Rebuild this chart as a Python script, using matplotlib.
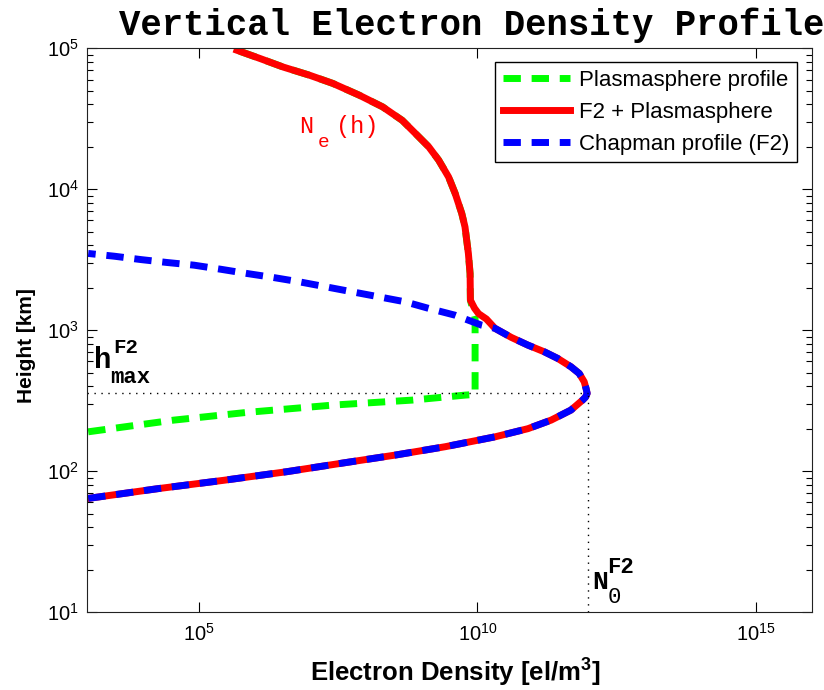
import matplotlib
matplotlib.use('Agg')
import matplotlib.pyplot as plt
from matplotlib.ticker import NullLocator

plt.rcParams['font.family'] = ['Liberation Sans', 'DejaVu Sans']

# Профиль Чепмена (F2), снизу вверх
chapman_h = [64, 75, 86, 99, 115, 130, 149, 175, 200, 230, 271, 319, 335, 356, 385, 430, 493,
             550, 630, 701, 783, 888, 1030, 1085, 1277, 1426, 1588, 1722, 1870, 2028, 2201,
             2364, 2524, 2709, 2892, 3020, 3168, 3347, 3502]
chapman_N = [1.05e3, 1.84e4, 2.8e5, 3.8e6, 4.4e7, 3.4e8, 2.66e9, 2.07e10, 8.07e10, 2.1e11,
             4.76e11, 7.7e11, 8.7e11, 9.3e11, 8.9e11, 8.24e11, 6.7e11, 4.76e11, 2.76e11,
             1.6e11, 8.07e10, 4.07e10, 2.07e10, 1.19e10, 3.98e9, 1.35e9, 5.1e8, 1.74e8,
             5.75e7, 1.95e7, 6.5e6, 2.2e6, 7.4e5, 2.45e5, 8.3e4, 2.75e4, 9.3e3, 3.1e3, 1.05e3]

# F2 + плазмосфера, сверху вниз
total_h = [96800, 84600, 73600, 64400, 56300, 46500, 38400, 30800, 24800, 20000, 16100,
           12200, 9330, 6730, 5400, 3500, 2520, 1630, 1430, 1310, 1200, 1030, 888, 783,
           701, 630, 550, 493, 430, 385, 356, 335, 319, 271, 230, 200, 175, 149, 130, 115,
           99, 86, 75, 64]
total_N = [4.9e5, 1.27e6, 3.3e6, 9.8e6, 2.57e7, 7.6e7, 2.0e8, 4.5e8, 7.8e8, 1.34e9, 2.02e9,
           3.05e9, 4.0e9, 5.25e9, 6.0e9, 6.9e9, 7.4e9, 7.5e9, 8.9e9, 1.05e10, 1.45e10,
           2.07e10, 4.07e10, 8.07e10, 1.6e11, 2.76e11, 4.76e11, 6.7e11, 8.24e11, 8.9e11,
           9.3e11, 8.7e11, 7.7e11, 4.76e11, 2.1e11, 8.07e10, 2.07e10, 2.66e9, 3.4e8,
           4.4e7, 3.8e6, 2.8e5, 1.84e4, 1.05e3]

# Плазмосфера, снизу вверх
plasma_h = [190, 230, 261, 294, 319, 346, 350, 1216, 1630, 2520, 3500, 5400, 6730, 9330,
            12200, 16100, 20000, 24800, 30800, 38400, 46500, 56300, 64400, 73600, 84600,
            96800]
plasma_N = [1.05e3, 3.6e4, 7.4e5, 2.57e7, 6.8e8, 6.0e9, 9.1e9, 9.1e9, 7.5e9, 7.4e9, 6.9e9,
            6.0e9, 5.25e9, 4.0e9, 3.05e9, 2.02e9, 1.34e9, 7.8e8, 4.5e8, 2.0e8, 7.6e7,
            2.57e7, 9.8e6, 3.3e6, 1.27e6, 4.9e5]

hmF2 = 356
NmF2 = 9.5e11

fig = plt.figure(figsize=(8.24, 6.9), dpi=100)
ax = fig.add_axes([0.1056, 0.113, 0.8798, 0.817])

lw = 5
dash = (0, (2.5, 1.55))
ax.plot(plasma_N, plasma_h, color='#00ff00', lw=lw, linestyle=dash,
        label='Plasmasphere profile')
ax.plot(total_N, total_h, color='#ff0000', lw=lw, label='F2 + Plasmasphere')
ax.plot(chapman_N, chapman_h, color='#0000ff', lw=lw, linestyle=dash,
        label='Chapman profile (F2)')

# пунктир hmF2 / NmF2
ax.plot([1e3, NmF2], [hmF2, hmF2], color='black', lw=1, linestyle=(0, (1, 4)))
ax.plot([NmF2, NmF2], [10, hmF2], color='black', lw=1, linestyle=(0, (1, 4)))

ax.set_xscale('log')
ax.set_yscale('log')
ax.set_xlim(1e3, 1e16)
ax.set_ylim(10, 1e5)
ax.set_xticks([1e5, 1e10, 1e15])
ax.xaxis.set_minor_locator(NullLocator())

ax.tick_params(which='both', direction='in', top=True, right=True, labelsize=14.5)
ax.tick_params(axis='x', pad=8)
ax.tick_params(axis='y', pad=6)
ax.tick_params(which='major', length=7, width=0.8)
ax.tick_params(which='minor', length=4, width=0.8)
for s in ax.spines.values():
    s.set_linewidth(0.8)
    s.set_color('#222222')

ax.set_xlabel('Electron Density [el/m$\\mathdefault{^{3}}$]', fontsize=18.5, fontweight='bold')
ax.set_ylabel('Height [km]', fontsize=15, fontweight='bold')
ax.xaxis.set_label_coords(0.508, -0.08)
ax.yaxis.set_label_coords(-0.07, 0.473)

mono = 'Liberation Mono'
# h_max^F2
ax.text(10**3.126, 537, 'h', family=mono, fontweight='bold', fontsize=21, va='baseline')
ax.text(10**3.47, 687, 'F2', family=mono, fontweight='bold', fontsize=15, va='baseline')
ax.text(10**3.416, 421, 'max', family=mono, fontweight='bold', fontsize=16, va='baseline')
# N_0^F2
ax.text(10**12.06, 14.6, 'N', family=mono, fontweight='bold', fontsize=19, va='baseline')
ax.text(10**12.33, 18.9, 'F2', family=mono, fontweight='bold', fontsize=16, va='baseline')
ax.text(10**12.33, 11.6, '0', family=mono, fontsize=16, va='baseline')
# N_e(h)
ax.text(10**6.797, 24900, 'N', family=mono, fontsize=17, color='red', va='baseline')
ax.text(10**7.135, 19900, 'e', family=mono, fontsize=14, color='red', va='baseline')
ax.text(10**7.473, 24900, '(h)', family=mono, fontsize=17, color='red', va='baseline')

leg = ax.legend(loc='upper right', bbox_to_anchor=(0.979, 0.975), borderaxespad=0,
                fontsize=16, handlelength=3.0, handletextpad=0.4, labelspacing=0.48,
                borderpad=0.35, fancybox=False, framealpha=1, edgecolor='black')
leg.get_frame().set_linewidth(1)

fig.text(0.573, 0.964, 'Vertical Electron Density Profile', family=mono,
         fontweight='bold', fontsize=25.7, ha='center', va='center')

fig.savefig('out.png', dpi=100)
